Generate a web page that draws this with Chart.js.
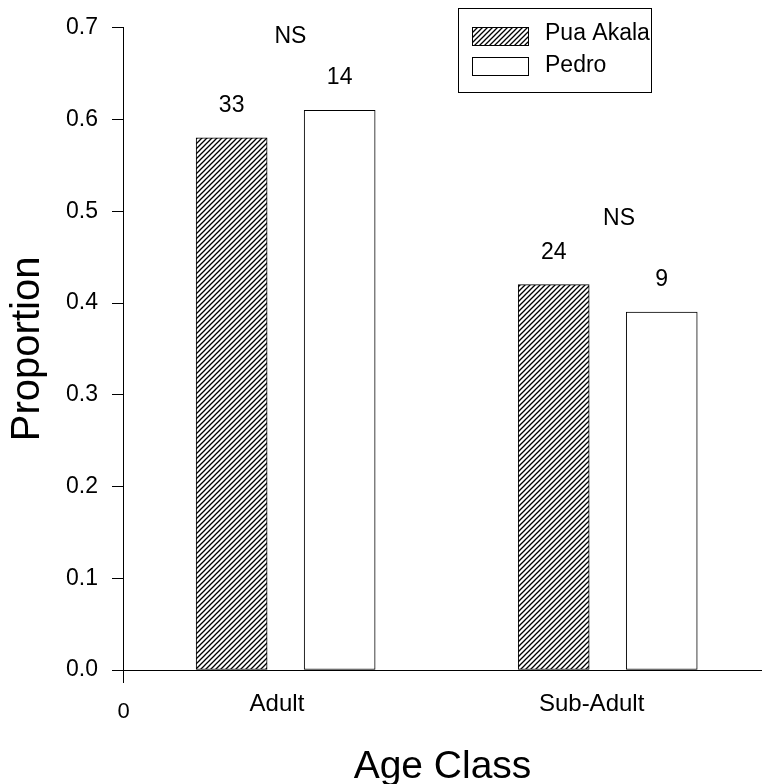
<!DOCTYPE html>
<html>
<head>
<meta charset="utf-8">
<script src="https://cdn.jsdelivr.net/npm/chart.js@4/dist/chart.umd.min.js"></script>
<style>
html,body{margin:0;padding:0;background:#fff;}
#c{display:block;}
</style>
</head>
<body>
<canvas id="c" width="762" height="784"></canvas>
<script>
// ---- data ----
const categories = ['Adult', 'Sub-Adult'];
const seriesNames = ['Pua Akala', 'Pedro'];
const puaAkala = [0.58, 0.42];
const pedro = [0.61, 0.39];
const puaCounts = ['33', '24'];
const pedroCounts = ['14', '9'];
const sigLabels = ['NS', 'NS'];
const sigLevels = [0.683, 0.485];
const yTicks = [0, 0.1, 0.2, 0.3, 0.4, 0.5, 0.6, 0.7];

// ---- layout (x positions on a linear axis, 0 = y axis) ----
const groupCenter = [0.505, 1.505];
const barShift = 0.1677;
const labelPos = [0.478, 1.455];
const sigPos = [0.52, 1.54];
const X_MAX = 1.984;

const FONT = "'Liberation Sans', Arial, sans-serif";
Chart.defaults.color = '#000';
Chart.defaults.font.family = FONT;

function hatch() {
  const s = 5;
  const c = document.createElement('canvas');
  c.width = s; c.height = s;
  const g = c.getContext('2d');
  g.fillStyle = '#fff'; g.fillRect(0, 0, s, s);
  g.strokeStyle = '#000'; g.lineWidth = 1.3;
  g.beginPath();
  g.moveTo(-1, s + 1); g.lineTo(s + 1, -1);
  g.moveTo(-1, 1); g.lineTo(1, -1);
  g.moveTo(s - 1, s + 1); g.lineTo(s + 1, s - 1);
  g.stroke();
  return g.createPattern(c, 'repeat');
}
const hatchPattern = hatch();

const puaData = puaAkala.map((v, i) => ({x: groupCenter[i] - barShift, y: v}));
const pedroData = pedro.map((v, i) => ({x: groupCenter[i] + barShift, y: v}));

const annotations = {
  id: 'annotations',
  afterDatasetsDraw(chart) {
    const ctx = chart.ctx;
    const xs = chart.scales.x, ys = chart.scales.y;
    ctx.save();
    ctx.fillStyle = '#000';
    ctx.font = '23px ' + FONT;
    ctx.textAlign = 'center';
    ctx.textBaseline = 'alphabetic';
    const counts = [puaCounts, pedroCounts];
    [0, 1].forEach(d => {
      chart.getDatasetMeta(d).data.forEach((bar, i) => {
        ctx.fillText(counts[d][i], bar.x, bar.y - 26);
      });
    });
    sigLabels.forEach((t, i) => {
      ctx.fillText(t, xs.getPixelForValue(sigPos[i]), ys.getPixelForValue(sigLevels[i]));
    });
    // origin label and axis extension
    const ox = Math.round(chart.chartArea.left) + 0.5;
    const oy = chart.chartArea.bottom;
    ctx.strokeStyle = '#000'; ctx.lineWidth = 1;
    ctx.beginPath(); ctx.moveTo(ox, oy); ctx.lineTo(ox, oy + 13); ctx.stroke();
    ctx.font = '22px ' + FONT;
    ctx.textBaseline = 'middle';
    ctx.fillText('0', ox, oy + 42);
    // legend
    ctx.lineWidth = 1;
    ctx.strokeRect(458.5, 8.5, 193, 84);
    ctx.fillStyle = hatchPattern;
    ctx.fillRect(472, 27, 56, 18);
    ctx.strokeRect(472.5, 27.5, 56, 18);
    ctx.fillStyle = '#fff';
    ctx.fillRect(472, 57, 56, 18);
    ctx.strokeRect(472.5, 57.5, 56, 18);
    ctx.fillStyle = '#000';
    ctx.font = '23px ' + FONT;
    ctx.textAlign = 'left';
    ctx.textBaseline = 'alphabetic';
    ctx.fillText(seriesNames[0], 545, 40);
    ctx.fillText(seriesNames[1], 545, 72);
    ctx.restore();
  }
};

new Chart(document.getElementById('c'), {
  type: 'bar',
  data: {
    datasets: [
      {label: seriesNames[0], data: puaData, backgroundColor: hatchPattern,
       borderColor: '#000', borderWidth: 1, borderSkipped: false},
      {label: seriesNames[1], data: pedroData, backgroundColor: '#fff',
       borderColor: '#000', borderWidth: 1, borderSkipped: false}
    ]
  },
  options: {
    responsive: false,
    animation: false,
    devicePixelRatio: 1,
    grouped: false,
    barThickness: 71,
    layout: {padding: {top: 19, right: 0, left: 0, bottom: 0}},
    plugins: {legend: {display: false}, tooltip: {enabled: false}},
    scales: {
      x: {
        type: 'linear',
        min: 0, max: X_MAX,
        offset: false,
        grid: {display: false},
        border: {display: true, color: '#000', width: 1},
        afterBuildTicks(scale) { scale.ticks = labelPos.map(v => ({value: v})); },
        afterFit(scale) { scale.height = 114; },
        ticks: {
          autoSkip: false, maxRotation: 0, padding: 12,
          font: {size: 24, family: FONT},
          callback: (v, i) => categories[i]
        },
        title: {display: true, text: 'Age Class', font: {size: 39, family: FONT, lineHeight: 0.85},
                padding: {top: 0, bottom: 0}}
      },
      y: {
        type: 'linear',
        min: 0, max: 0.7,
        afterBuildTicks(scale) { scale.ticks = yTicks.map(v => ({value: v})); },
        afterFit(scale) { scale.width = 123; },
        grid: {display: true, drawOnChartArea: false, drawTicks: true, tickLength: 11,
               color: '#000', lineWidth: 1},
        border: {display: true, color: '#000', width: 1},
        ticks: {padding: 14, font: {size: 23, family: FONT},
                callback: v => v.toFixed(1)},
        title: {display: true, text: 'Proportion', font: {size: 40, family: FONT, lineHeight: 1.2},
                padding: {top: 4, bottom: 0}}
      }
    }
  },
  plugins: [annotations]
});
</script>
</body>
</html>
